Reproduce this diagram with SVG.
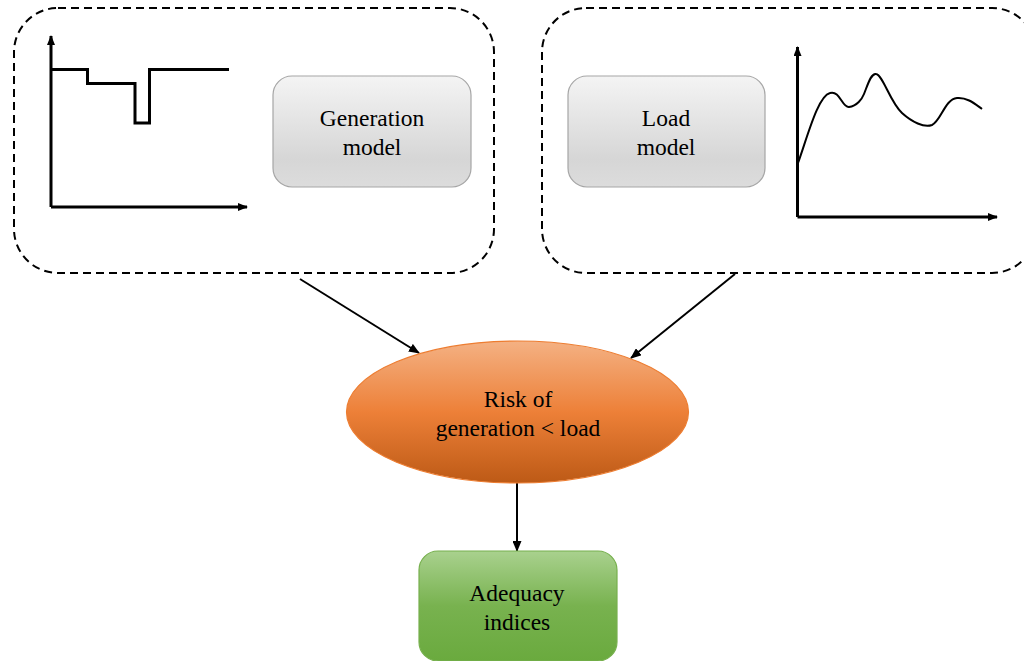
<svg xmlns="http://www.w3.org/2000/svg" width="1024" height="661" viewBox="0 0 1024 661">
  <style>
    .group-frame { fill: none; stroke: #000; stroke-width: 2; stroke-dasharray: 8 5; }
    .model { stroke: #a6a6a6; stroke-width: 1.2; fill: url(#grayFill); }
    .label { font-family: "Liberation Serif", "Times New Roman", serif; font-size: 23.5px; fill: #000; text-anchor: middle; }
    .axis { fill: none; stroke: #000; stroke-width: 3; }
    .trace { fill: none; stroke: #000; stroke-width: 3; stroke-linejoin: miter; }
    .curve { fill: none; stroke: #000; stroke-width: 2; }
    .link { fill: none; stroke: #000; stroke-width: 2; }
  </style>
  <defs>
    <linearGradient id="grayFill" x1="0" y1="0" x2="0" y2="1">
      <stop offset="0" stop-color="#f4f4f4"/>
      <stop offset="0.75" stop-color="#d6d6d6"/>
      <stop offset="1" stop-color="#dcdcdc"/>
    </linearGradient>
    <linearGradient id="orangeFill" x1="0" y1="0" x2="0" y2="1">
      <stop offset="0" stop-color="#f4b183"/>
      <stop offset="0.5" stop-color="#ed8038"/>
      <stop offset="1" stop-color="#bd5a16"/>
    </linearGradient>
    <linearGradient id="greenFill" x1="0" y1="0" x2="0" y2="1">
      <stop offset="0" stop-color="#a9d18e"/>
      <stop offset="0.5" stop-color="#78b24f"/>
      <stop offset="1" stop-color="#6aaa3e"/>
    </linearGradient>
    <marker id="arrow" markerWidth="11" markerHeight="9" refX="10" refY="4.5" orient="auto" markerUnits="userSpaceOnUse">
      <path d="M0,0 L11,4.5 L0,9 z" fill="#000"/>
    </marker>
    <marker id="axisTip" markerWidth="10" markerHeight="8" refX="9" refY="4" orient="auto" markerUnits="userSpaceOnUse">
      <path d="M0,0 L10,4 L0,8 z" fill="#000"/>
    </marker>
  </defs>

  <rect width="1024" height="661" fill="#fff"/>

  <!-- generation side: step-shaped capacity trace -->
  <g id="generation-group">
    <rect class="group-frame" x="14" y="8" width="480" height="265" rx="44" ry="44"/>
    <path class="axis" d="M51,207 L51,36" marker-end="url(#axisTip)"/>
    <path class="axis" d="M51,207 L247,207" marker-end="url(#axisTip)"/>
    <path class="trace" d="M51,69.5 L87.5,69.5 L87.5,83.5 L135,83.5 L135,123 L149.5,123 L149.5,69.5 L229,69.5"/>
  </g>
  <g id="generation-model">
    <rect class="model" x="273" y="76" width="198" height="111" rx="19" ry="19"/>
    <text class="label" x="372" y="126">Generation</text>
    <text class="label" x="372" y="155">model</text>
  </g>

  <!-- load side: smooth demand curve -->
  <g id="load-group">
    <rect class="group-frame" x="542" y="8" width="494" height="265" rx="44" ry="44"/>
    <path class="axis" d="M797.5,217 L797.5,47" marker-end="url(#axisTip)"/>
    <path class="axis" d="M797.5,217 L997,217" marker-end="url(#axisTip)"/>
    <path class="curve" d="M798,163 C808,135 818,96 830,93 C840,90 842,108 849,107 C857,106 862,99 864,94 C868,84 871,73 876,74 C883,75 890,102 902,113 C912,122 924,128 932,125 C941,121 945,99 957,98 C967,97 975,104 982,109"/>
  </g>
  <g id="load-model">
    <rect class="model" x="568" y="76" width="197" height="111" rx="19" ry="19"/>
    <text class="label" x="666" y="126">Load</text>
    <text class="label" x="666" y="155">model</text>
  </g>

  <!-- connectors -->
  <g id="connectors">
    <path class="link" d="M300,279 L419,353" marker-end="url(#arrow)"/>
    <path class="link" d="M735,274 L631,358" marker-end="url(#arrow)"/>
    <path class="link" d="M517,483 L517,551" marker-end="url(#arrow)"/>
  </g>

  <g id="risk">
    <ellipse cx="517.5" cy="412" rx="171" ry="71" fill="url(#orangeFill)" stroke="#ed7d31" stroke-width="1.2"/>
    <text class="label" x="518" y="407">Risk of</text>
    <text class="label" x="518" y="436">generation &lt; load</text>
  </g>

  <g id="adequacy">
    <rect x="419" y="551" width="198" height="110" rx="19" ry="19" fill="url(#greenFill)" stroke="#77b04e" stroke-width="1.2"/>
    <text class="label" x="517" y="601">Adequacy</text>
    <text class="label" x="517" y="630">indices</text>
  </g>
</svg>
